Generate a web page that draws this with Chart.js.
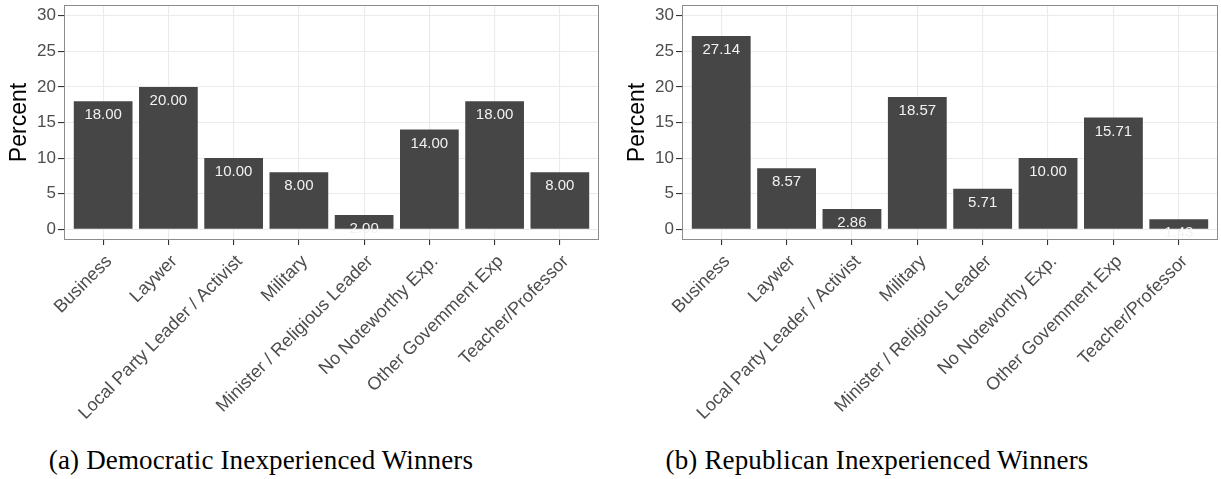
<!DOCTYPE html>
<html>
<head>
<meta charset="utf-8">
<script src="https://cdn.jsdelivr.net/npm/chart.js@4/dist/chart.umd.min.js"></script>
<style>
  html, body { margin: 0; padding: 0; background: #ffffff; }
  body { width: 1221px; height: 479px; position: relative; overflow: hidden; }
  .panel { position: absolute; top: 0; height: 432px; }
  .panel canvas { display: block; }
  .caption {
    position: absolute; top: 445px; width: 520px; text-align: center;
    font-family: "Liberation Serif", "DejaVu Serif", serif; font-size: 27px; color: #000;
    letter-spacing: 0.15px; white-space: nowrap;
  }
</style>
</head>
<body>
<div class="panel" id="wrapA" style="left:0px;width:605px;"><canvas id="chartA"></canvas></div>
<div class="panel" id="wrapB" style="left:618px;width:603px;"><canvas id="chartB"></canvas></div>
<div class="caption" style="left:1px;">(a) Democratic Inexperienced Winners</div>
<div class="caption" style="left:617px;">(b) Republican Inexperienced Winners</div>

<script>
// Background categories of inexperienced primary winners
const categories = [
  "Business",
  "Laywer",
  "Local Party Leader / Activist",
  "Military",
  "Minister / Religious Leader",
  "No Noteworthy Exp.",
  "Other Govemment Exp",
  "Teacher/Professor"
];

// Percent of winners in each category
const democraticPct = [18.00, 20.00, 10.00, 8.00, 2.00, 14.00, 18.00, 8.00];
const republicanPct = [27.14, 8.57, 2.86, 18.57, 5.71, 10.00, 15.71, 1.43];

// Y axis: labelled ticks plus the minor steps between them
const yMajorTicks = [0, 5, 10, 15, 20, 25, 30];
const yMinorTicks = [2.5, 7.5, 12.5, 17.5, 22.5, 27.5];
const yTitle = "Percent";

const BAR_FILL = "#464646";
const GRID = "#ebebeb";
const AXIS_TEXT = "#4d4d4d";
const SANS = "'Liberation Sans', Arial, sans-serif";

// Panel border drawn around the plotting area
const panelBorder = {
  id: "panelBorder",
  afterDraw(chart) {
    const a = chart.chartArea, ctx = chart.ctx;
    ctx.save();
    ctx.strokeStyle = "#8c8c8c";
    ctx.lineWidth = 1;
    ctx.strokeRect(a.left + 0.5, a.top + 0.5, a.right - a.left - 1, a.bottom - a.top - 1);
    ctx.restore();
  }
};

// Value text printed just inside the top of each bar
const barValues = {
  id: "barValues",
  afterDatasetsDraw(chart) {
    const ctx = chart.ctx, a = chart.chartArea;
    const meta = chart.getDatasetMeta(0);
    const data = chart.data.datasets[0].data;
    ctx.save();
    ctx.beginPath();
    ctx.rect(a.left, a.top, a.right - a.left, a.bottom - a.top);
    ctx.clip();
    ctx.fillStyle = "#f2f2f2";
    ctx.font = "15px " + SANS;
    ctx.textAlign = "center";
    ctx.textBaseline = "middle";
    meta.data.forEach((bar, i) => {
      ctx.fillText(data[i].y.toFixed(2), bar.x, bar.y + 14);
    });
    ctx.restore();
  }
};

function makeChart(canvasId, values, rightPad) {
  const points = values.map((v, i) => ({ x: i, y: v }));
  return new Chart(document.getElementById(canvasId), {
    type: "bar",
    data: {
      datasets: [{
        data: points,
        backgroundColor: BAR_FILL,
        borderWidth: 0,
        barPercentage: 0.9,
        categoryPercentage: 1.0
      }]
    },
    options: {
      responsive: true,
      maintainAspectRatio: false,
      animation: false,
      events: [],
      layout: { padding: { left: 0, top: 5, right: rightPad, bottom: 0 } },
      plugins: { legend: { display: false }, tooltip: { enabled: false } },
      scales: {
        x: {
          type: "linear",
          offset: false,
          min: -0.6,
          max: categories.length - 1 + 0.6,
          afterBuildTicks(scale) {
            scale.ticks = categories.map((_, i) => ({ value: i }));
          },
          afterFit(scale) {
            scale.height = 192;
            scale.paddingLeft = 0;
            scale.paddingRight = 0;
          },
          border: { display: false },
          grid: {
            offset: false,
            color: GRID,
            lineWidth: 1.1,
            tickColor: "#333333",
            tickLength: 5,
            drawTicks: true
          },
          ticks: {
            autoSkip: false,
            minRotation: 45,
            maxRotation: 45,
            padding: 6,
            labelOffset: 6,
            color: AXIS_TEXT,
            font: { family: SANS, size: 18 },
            callback: (v) => categories[v]
          }
        },
        y: {
          min: -1.5,
          max: 31.5,
          afterBuildTicks(scale) {
            scale.ticks = yMajorTicks.concat(yMinorTicks)
              .sort((p, q) => p - q)
              .map((v) => ({ value: v }));
          },
          afterFit(scale) {
            scale.width = 64;
            scale.paddingTop = 0;
            scale.paddingBottom = 0;
          },
          border: { display: false },
          grid: {
            color: GRID,
            lineWidth: (c) => (yMajorTicks.includes(c.tick.value) ? 1.1 : 0.6),
            tickColor: (c) => (yMajorTicks.includes(c.tick.value) ? "#333333" : "rgba(0,0,0,0)"),
            tickLength: 6,
            drawTicks: true
          },
          ticks: {
            padding: 2,
            color: AXIS_TEXT,
            font: { family: SANS, size: 17 },
            callback: (v) => (yMajorTicks.includes(v) ? String(v) : "")
          },
          title: {
            display: true,
            text: yTitle,
            color: "#000000",
            font: { family: SANS, size: 23 },
            padding: { top: 6, bottom: 0 }
          }
        }
      }
    },
    plugins: [barValues, panelBorder]
  });
}

makeChart("chartA", democraticPct, 6);
makeChart("chartB", republicanPct, 3);
</script>
</body>
</html>
